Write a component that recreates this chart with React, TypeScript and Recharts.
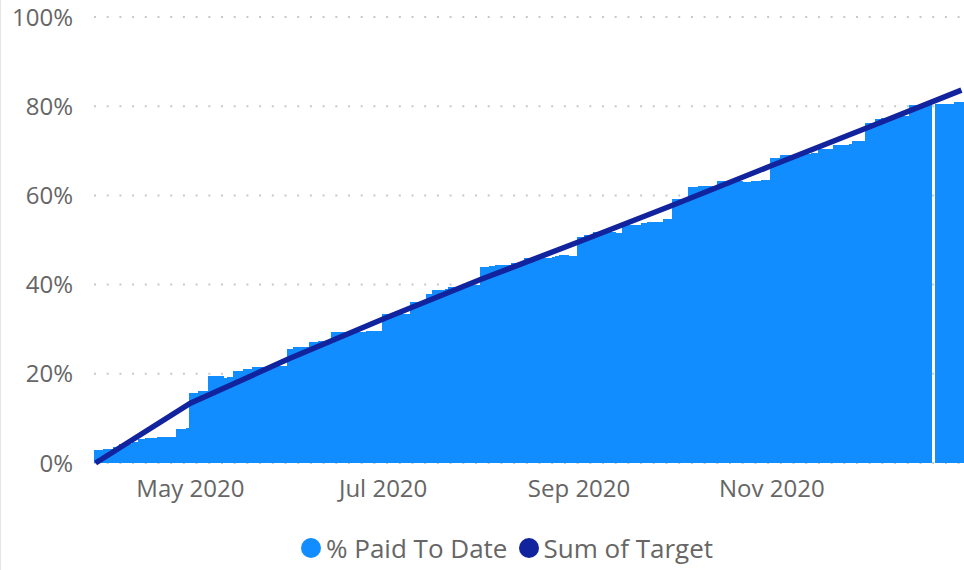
import React from 'react';
import { ComposedChart, Bar, Line, XAxis, YAxis, CartesianGrid, Legend } from 'recharts';

// Daily cumulative "% Paid To Date", one array per month (Apr–Dec 2020)
const paidApr = [2.9, 2.9, 2.9, 3.1, 3.1, 3.1, 3.6, 3.6, 4.2, 4.2, 4.2, 4.2, 4.6, 4.6, 5.4, 5.4, 5.6, 5.6, 5.6, 5.6, 5.8, 5.8, 5.8, 5.8, 5.8, 5.8, 7.6, 7.6, 7.6, 7.8];
const paidMay = [15.8, 15.8, 15.8, 16.1, 16.1, 16.1, 19.5, 19.5, 19.5, 19.5, 19.5, 19.0, 19.3, 19.3, 20.6, 20.6, 20.6, 21.0, 21.1, 21.1, 21.5, 21.5, 21.5, 21.5, 21.5, 21.5, 21.8, 21.8, 21.8, 21.8, 21.8];
const paidJun = [25.5, 25.5, 26.0, 26.0, 26.0, 26.0, 26.0, 27.1, 27.1, 27.1, 27.4, 27.4, 27.4, 27.4, 29.4, 29.4, 29.4, 29.4, 29.4, 29.4, 29.4, 29.4, 29.4, 29.4, 29.4, 29.7, 29.7, 29.7, 29.7, 29.7];
const paidJul = [33.4, 33.4, 33.4, 33.4, 33.4, 33.4, 33.4, 33.4, 33.4, 36.1, 36.1, 36.1, 36.1, 36.1, 38.0, 38.0, 38.8, 38.8, 38.8, 38.8, 39.1, 39.5, 39.5, 39.5, 39.5, 39.5, 39.8, 39.8, 39.8, 39.8, 39.8];
const paidAug = [43.9, 43.9, 43.9, 44.2, 44.2, 44.5, 44.5, 44.5, 44.5, 44.5, 44.8, 44.8, 44.8, 44.8, 46.0, 46.0, 46.0, 46.0, 46.0, 46.0, 46.0, 46.0, 46.0, 46.2, 46.4, 46.6, 46.6, 46.6, 46.4, 46.4, 46.4];
const paidSep = [50.6, 50.6, 51.1, 51.1, 51.1, 51.9, 51.9, 51.9, 51.9, 51.9, 51.9, 51.9, 51.6, 51.6, 53.4, 53.4, 53.4, 53.4, 53.4, 53.4, 53.7, 53.7, 54.0, 54.0, 54.0, 54.0, 54.0, 54.8, 54.8, 54.8];
const paidOct = [59.2, 59.2, 59.2, 59.2, 59.2, 61.8, 61.8, 61.8, 62.1, 62.1, 62.1, 62.1, 62.1, 62.1, 63.2, 63.2, 63.2, 63.2, 63.2, 63.2, 63.2, 63.2, 63.0, 63.0, 63.0, 63.3, 63.2, 63.2, 63.4, 63.4, 63.4];
const paidNov = [68.3, 68.3, 68.3, 69.1, 69.1, 69.1, 69.1, 69.1, 69.3, 69.3, 69.3, 69.3, 69.3, 69.4, 69.4, 70.5, 70.5, 70.5, 70.5, 70.5, 71.4, 71.4, 71.4, 71.4, 71.4, 71.6, 72.3, 72.3, 72.3, 72.3];
const paidDec = [76.3, 76.3, 76.3, 77.1, 77.1, 77.3, 77.3, 77.3, 77.3, 77.3, 77.8, 77.8, 77.8, 77.8, 80.3, 80.3, 80.3, 80.3, 80.3, 80.3, 80.3, null, 80.4, 80.4, 80.4, 80.4, 80.4, 80.6, 81.0, 81.0, 81.0];

// "Sum of Target" at month boundaries
const targetDates = ['2020-04-01', '2020-05-01', '2020-06-01', '2020-07-01', '2020-08-01', '2020-09-01', '2020-10-01', '2020-11-01', '2020-12-01', '2020-12-31'];
const targetValues = [0, 13.4, 23.3, 32.3, 41.2, 49.6, 57.9, 66.7, 75.1, 83.6];

const xTicks = ['2020-05-01', '2020-07-01', '2020-09-01', '2020-11-01'];
const xTickLabels = ['May 2020', 'Jul 2020', 'Sep 2020', 'Nov 2020'];
const yTicks = [0, 20, 40, 60, 80, 100];

const seriesNames = ['% Paid To Date', 'Sum of Target'];
const colors = ['#118DFF', '#12239E'];

const paidAll = [...paidApr, ...paidMay, ...paidJun, ...paidJul, ...paidAug, ...paidSep, ...paidOct, ...paidNov, ...paidDec];

function buildDates(start: string, count: number): string[] {
  const out: string[] = [];
  const d = new Date(start + 'T00:00:00Z');
  for (let i = 0; i < count; i++) {
    out.push(d.toISOString().slice(0, 10));
    d.setUTCDate(d.getUTCDate() + 1);
  }
  return out;
}

const dates = buildDates('2020-04-01', paidAll.length);
const data = dates.map((date, i) => {
  const ti = targetDates.indexOf(date);
  return { date, paid: paidAll[i], target: ti >= 0 ? targetValues[ti] : null };
});

const FONT = '"Open Sans", "Noto Sans", sans-serif';

// Solid daily bar: snapped to whole pixels and widened slightly so neighbouring days touch
const DayBar = (p: any) => {
  if (p.value == null || !p.height || p.height <= 0) return <g />;
  const x0 = Math.round(p.x);
  const x1 = Math.round(p.x + p.width) + 1;
  return <rect x={x0} y={p.y} width={x1 - x0} height={p.height} fill={colors[0]} shapeRendering="crispEdges" />;
};

const LegendContent = () => (
  <div style={{ position: 'relative', height: 44, width: 964, fontFamily: FONT, fontSize: 26, color: '#666' }}>
    <div style={{ position: 'absolute', left: 300, top: 0, height: 44, display: 'flex', alignItems: 'center' }}>
      <span style={{ width: 20, height: 20, borderRadius: 10, background: colors[0], display: 'inline-block' }} />
      <span style={{ marginLeft: 5, whiteSpace: 'nowrap' }}>{seriesNames[0]}</span>
      <span style={{ width: 20, height: 20, borderRadius: 10, background: colors[1], display: 'inline-block', marginLeft: 12 }} />
      <span style={{ marginLeft: 4, whiteSpace: 'nowrap' }}>{seriesNames[1]}</span>
    </div>
  </div>
);

export default function App() {
  return (
    <div style={{ position: 'absolute', left: 0, top: 0, width: 964, height: 570, background: '#fff', borderLeft: '1px solid #e6e6e6', boxSizing: 'border-box' }}>
      <ComposedChart
        width={963}
        height={570}
        data={data}
        margin={{ top: 17, right: 1, left: 0, bottom: 0 }}
        barCategoryGap={0}
        barGap={0}
      >
        <CartesianGrid vertical={false} stroke="#c8c8c8" strokeWidth={2} strokeDasharray="2 10.7" />
        <XAxis
          dataKey="date"
          ticks={xTicks}
          interval={0}
          tickFormatter={(v: string) => xTickLabels[xTicks.indexOf(v)] ?? ''}
          axisLine={false}
          tickLine={false}
          tickSize={0}
          tickMargin={17}
          height={63}
          tick={{ fill: '#666', fontSize: 24, fontFamily: FONT }}
        />
        <YAxis
          domain={[0, 100]}
          ticks={yTicks}
          tickFormatter={(v: number) => `${v}%`}
          axisLine={false}
          tickLine={false}
          tickSize={0}
          tickMargin={21}
          width={93}
          tick={{ fill: '#666', fontSize: 24, fontFamily: FONT }}
        />
        <Legend verticalAlign="bottom" height={44} content={LegendContent} wrapperStyle={{ left: 0, width: 964 }} />
        <Bar dataKey="paid" name={seriesNames[0]} fill={colors[0]} shape={DayBar} isAnimationActive={false} />
        <Line
          dataKey="target"
          name={seriesNames[1]}
          stroke={colors[1]}
          strokeWidth={5.5}
          dot={false}
          activeDot={false}
          connectNulls
          type="linear"
          isAnimationActive={false}
        />
      </ComposedChart>
    </div>
  );
}
